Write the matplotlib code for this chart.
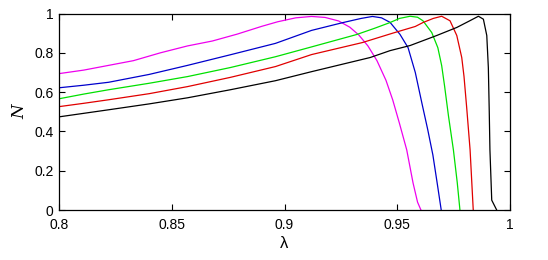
import matplotlib
matplotlib.use("Agg")
import matplotlib.pyplot as plt

# curves (lambda, N)
lam_m = [0.800, 0.811, 0.822, 0.833, 0.845, 0.857, 0.868, 0.879, 0.890, 0.897, 0.905, 0.912,
         0.918, 0.924, 0.929, 0.933, 0.937, 0.941, 0.945, 0.948, 0.951, 0.9542, 0.957, 0.959, 0.9605]
n_m = [0.694, 0.712, 0.736, 0.760, 0.800, 0.835, 0.860, 0.895, 0.935, 0.958, 0.978, 0.985,
       0.980, 0.962, 0.930, 0.890, 0.835, 0.760, 0.660, 0.560, 0.440, 0.306, 0.138, 0.040, 0.0]

lam_b = [0.800, 0.811, 0.822, 0.840, 0.857, 0.876, 0.896, 0.912, 0.926, 0.934, 0.939, 0.943,
         0.9468, 0.9512, 0.9548, 0.958, 0.961, 0.9635, 0.9658, 0.9678, 0.9695]
n_b = [0.622, 0.635, 0.650, 0.690, 0.736, 0.790, 0.848, 0.914, 0.954, 0.975, 0.985, 0.978,
       0.955, 0.894, 0.826, 0.700, 0.540, 0.410, 0.280, 0.130, 0.0]

lam_g = [0.800, 0.811, 0.822, 0.840, 0.857, 0.876, 0.896, 0.912, 0.932, 0.940, 0.9468, 0.951,
         0.9557, 0.959, 0.9614, 0.9653, 0.968, 0.9697, 0.971, 0.9727, 0.9749, 0.9766, 0.9778]
n_g = [0.566, 0.590, 0.612, 0.645, 0.679, 0.725, 0.780, 0.830, 0.893, 0.925, 0.954, 0.975,
       0.986, 0.981, 0.963, 0.903, 0.826, 0.735, 0.630, 0.480, 0.306, 0.140, 0.0]

lam_r = [0.800, 0.811, 0.822, 0.840, 0.857, 0.876, 0.896, 0.912, 0.9345, 0.948, 0.958, 0.9614,
         0.966, 0.9697, 0.9734, 0.9764, 0.9786, 0.9796, 0.9808, 0.9823, 0.9837]
n_r = [0.526, 0.543, 0.561, 0.592, 0.628, 0.675, 0.730, 0.791, 0.852, 0.900, 0.934, 0.954,
       0.975, 0.986, 0.963, 0.888, 0.776, 0.680, 0.520, 0.306, 0.0]

lam_k = [0.800, 0.811, 0.822, 0.840, 0.857, 0.876, 0.896, 0.912, 0.938, 0.9468, 0.9557, 0.9675,
         0.9764, 0.982, 0.986, 0.9882, 0.9897, 0.9904, 0.9908, 0.9911, 0.9919, 0.9941]
n_k = [0.474, 0.492, 0.510, 0.540, 0.571, 0.612, 0.658, 0.704, 0.776, 0.811, 0.837, 0.888,
       0.929, 0.962, 0.986, 0.971, 0.888, 0.724, 0.500, 0.306, 0.050, 0.0]

x_ticks = [0.8, 0.85, 0.9, 0.95, 1]
y_ticks = [0, 0.2, 0.4, 0.6, 0.8, 1]

plt.rcParams["font.family"] = ["Liberation Sans", "DejaVu Sans"]
plt.rcParams["font.size"] = 10

fig = plt.figure(figsize=(5.48, 2.6), dpi=100)
ax = fig.add_axes([59 / 548, 1 - 210 / 260, 451 / 548, 196.5 / 260])

lw = 0.9
ax.plot(lam_m, n_m, color="#ee00ee", lw=lw)
ax.plot(lam_b, n_b, color="#0000cc", lw=lw)
ax.plot(lam_g, n_g, color="#00e000", lw=lw)
ax.plot(lam_r, n_r, color="#e00000", lw=lw)
ax.plot(lam_k, n_k, color="black", lw=lw)

ax.set_xlim(0.8, 1)
ax.set_ylim(0, 1)
ax.set_xticks(x_ticks)
ax.set_yticks(y_ticks)
ax.set_xticklabels(["%g" % v for v in x_ticks])
ax.set_yticklabels(["%g" % v for v in y_ticks])
ax.tick_params(direction="in", top=True, right=True, length=4, width=0.8)
ax.tick_params(axis="x", pad=6)
ax.tick_params(axis="y", pad=4)
for s in ax.spines.values():
    s.set_linewidth(0.9)

ax.set_xlabel("λ", fontsize=12, labelpad=3)
ax.set_ylabel("N", fontsize=12, fontstyle="italic", family=["DejaVu Serif"])

fig.savefig("out.png", dpi=100)
